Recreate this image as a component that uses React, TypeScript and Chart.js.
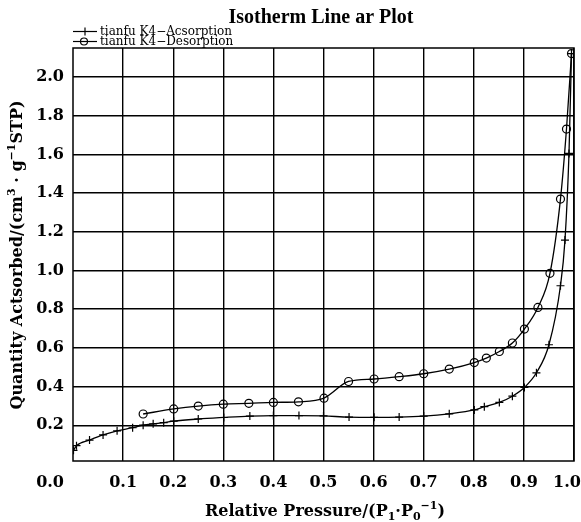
import React, { useEffect, useRef } from "react";
import { Chart, registerables } from "chart.js";

Chart.register(...registerables);

// ---------- data ----------
const titleText = "Isotherm Line ar Plot";
const legendLabels = ["tianfu K4\u2212Acsorption", "tianfu K4\u2212Desorption"];

const adsP = [0.001, 0.007, 0.033, 0.06, 0.088, 0.119, 0.14, 0.16, 0.181, 0.201, 0.25, 0.301, 0.353, 0.4, 0.451, 0.5, 0.551, 0.601, 0.651, 0.7, 0.751, 0.801, 0.821, 0.851, 0.877, 0.901, 0.925, 0.95, 0.973, 0.982, 0.99, 0.995];
const adsV = [0.07, 0.094, 0.123, 0.15, 0.171, 0.187, 0.2, 0.207, 0.213, 0.221, 0.232, 0.24, 0.247, 0.25, 0.25, 0.248, 0.242, 0.241, 0.242, 0.247, 0.259, 0.279, 0.296, 0.318, 0.35, 0.395, 0.471, 0.616, 0.921, 1.157, 1.605, 2.121];

const desP = [0.14, 0.201, 0.25, 0.3, 0.351, 0.4, 0.45, 0.501, 0.55, 0.601, 0.651, 0.7, 0.751, 0.801, 0.825, 0.851, 0.877, 0.901, 0.928, 0.952, 0.973, 0.985, 0.995];
const desV = [0.258, 0.284, 0.299, 0.309, 0.313, 0.318, 0.321, 0.34, 0.426, 0.439, 0.451, 0.466, 0.49, 0.524, 0.547, 0.581, 0.625, 0.697, 0.809, 0.985, 1.369, 1.731, 2.121];

const xTicks = [0.1, 0.2, 0.3, 0.4, 0.5, 0.6, 0.7, 0.8, 0.9, 1.0];
const yTicks = [0.2, 0.4, 0.6, 0.8, 1.0, 1.2, 1.4, 1.6, 1.8, 2.0];
const originLabel = "0.0";

type Seg = { t: string; s?: "sub" | "sup" };
const xTitle: Seg[] = [
  { t: "Relative Pressure/(P" },
  { t: "1", s: "sub" },
  { t: "\u00b7P" },
  { t: "0", s: "sub" },
  { t: "\u22121", s: "sup" },
  { t: ")" },
];
const yTitle: Seg[] = [
  { t: "Quantity Actsorbed/(cm" },
  { t: "3", s: "sup" },
  { t: " \u00b7 g" },
  { t: "\u22121", s: "sup" },
  { t: "STP)" },
];

const SERIF = '"Liberation Serif", serif';
const WIDE = '"DejaVu Serif", serif';

function drawRich(
  ctx: CanvasRenderingContext2D,
  segs: Seg[],
  x: number,
  y: number,
  size: number,
  weight: string,
  family: string
) {
  const small = Math.round(size * 0.66);
  let total = 0;
  const widths = segs.map((sg) => {
    ctx.font = `${weight} ${sg.s ? small : size}px ${family}`;
    const w = ctx.measureText(sg.t).width;
    total += w;
    return w;
  });
  let cx = x - total / 2;
  ctx.textAlign = "left";
  ctx.textBaseline = "alphabetic";
  segs.forEach((sg, i) => {
    ctx.font = `${weight} ${sg.s ? small : size}px ${family}`;
    const dy = sg.s === "sup" ? -size * 0.42 : sg.s === "sub" ? size * 0.22 : 0;
    ctx.fillText(sg.t, cx, y + dy);
    cx += widths[i];
  });
}

const decorPlugin = {
  id: "decor",
  beforeDraw(chart: any) {
    // keep the last x label inside the canvas, as in the reference
    const s = chart.scales.x;
    const items = s.getLabelItems(chart.chartArea);
    if (items && items.length) {
      const last = items[items.length - 1];
      last.options.translation = [last.options.translation[0] - 7, last.options.translation[1]];
    }
  },
  afterDatasetsDraw(chart: any) {
    const ctx: CanvasRenderingContext2D = chart.ctx;
    const a = chart.chartArea;
    ctx.save();
    // frame
    ctx.strokeStyle = "#000";
    ctx.lineWidth = 1.5;
    ctx.strokeRect(a.left, a.top, a.right - a.left, a.bottom - a.top);

    ctx.fillStyle = "#000";
    // title
    ctx.font = `bold 20px ${SERIF}`;
    ctx.textAlign = "center";
    ctx.textBaseline = "alphabetic";
    ctx.fillText(titleText, 321, 23);

    // legend
    const lx0 = 73, lx1 = 97;
    const rows = [31.5, 41.5];
    ctx.lineWidth = 1.2;
    rows.forEach((ry, i) => {
      ctx.beginPath();
      ctx.moveTo(lx0, ry);
      ctx.lineTo(lx1, ry);
      ctx.stroke();
      if (i === 0) {
        ctx.beginPath();
        ctx.moveTo(85, ry - 4);
        ctx.lineTo(85, ry + 4);
        ctx.stroke();
      } else {
        ctx.beginPath();
        ctx.arc(84, ry, 3.5, 0, Math.PI * 2);
        ctx.stroke();
      }
      ctx.font = `12px ${WIDE}`;
      ctx.textAlign = "left";
      ctx.textBaseline = "middle";
      ctx.fillText(legendLabels[i], 100, ry);
    });

    // origin label
    ctx.font = `bold 16px ${WIDE}`;
    ctx.textAlign = "right";
    ctx.textBaseline = "middle";
    ctx.fillText(originLabel, 64, 483);

    // x title
    drawRich(ctx, xTitle, 325, 516, 16, "bold", WIDE);

    // y title
    ctx.translate(0, 255);
    ctx.rotate(-Math.PI / 2);
    drawRich(ctx, yTitle, 0, 22, 16, "bold", WIDE);
    ctx.restore();
  },
};

export default function App() {
  const ref = useRef<HTMLCanvasElement | null>(null);
  useEffect(() => {
    if (!ref.current) return;
    const chart = new Chart(ref.current, {
      type: "line",
      data: {
        datasets: [
          {
            label: legendLabels[0],
            data: adsP.map((p, i) => ({ x: p, y: adsV[i] })),
            borderColor: "#000",
            borderWidth: 1.3,
            pointStyle: "cross",
            pointRadius: 4,
            pointBorderWidth: 1.2,
            pointBorderColor: "#000",
            pointBackgroundColor: "rgba(0,0,0,0)",
            backgroundColor: "rgba(0,0,0,0)",
            cubicInterpolationMode: "monotone",
            fill: false,
          },
          {
            label: legendLabels[1],
            data: desP.map((p, i) => ({ x: p, y: desV[i] })),
            borderColor: "#000",
            borderWidth: 1.3,
            pointStyle: "circle",
            pointRadius: 4,
            pointBorderWidth: 1.2,
            pointBorderColor: "#000",
            pointBackgroundColor: "rgba(0,0,0,0)",
            backgroundColor: "rgba(0,0,0,0)",
            cubicInterpolationMode: "monotone",
            fill: false,
          },
        ],
      },
      options: {
        animation: false,
        responsive: true,
        maintainAspectRatio: false,
        layout: { padding: { top: 48, right: 7, left: 0, bottom: 0 } },
        plugins: {
          legend: { display: false },
          title: { display: false },
          tooltip: { enabled: false },
        },
        scales: {
          x: {
            type: "linear",
            min: 0,
            max: 1,
            afterBuildTicks: (s: any) => {
              s.ticks = xTicks.map((v) => ({ value: v }));
            },
            afterFit: (s: any) => {
              s.height = 61;
              s.paddingLeft = 0;
              s.paddingRight = 0;
            },
            grid: { color: "#000", lineWidth: 1.4, drawTicks: false },
            border: { display: false },
            ticks: {
              autoSkip: false,
              maxRotation: 0,
              padding: 12,
              color: "#000",
              font: { family: WIDE, size: 16, weight: "bold" },
              callback: (v: any) => Number(v).toFixed(1),
            },
          },
          y: {
            type: "linear",
            min: 0.015,
            max: 2.15,
            afterBuildTicks: (s: any) => {
              s.ticks = yTicks.map((v) => ({ value: v }));
            },
            afterFit: (s: any) => {
              s.width = 73;
              s.paddingTop = 0;
              s.paddingBottom = 0;
            },
            grid: { color: "#000", lineWidth: 1.4, drawTicks: false },
            border: { display: false },
            ticks: {
              padding: 9,
              color: "#000",
              font: { family: WIDE, size: 16, weight: "bold" },
              callback: (v: any) => Number(v).toFixed(1),
            },
          },
        },
      },
      plugins: [decorPlugin],
    } as any);
    return () => chart.destroy();
  }, []);

  return (
    <div style={{ position: "absolute", left: 0, top: 0, width: 581, height: 522, background: "#fff" }}>
      <canvas ref={ref} />
    </div>
  );
}
